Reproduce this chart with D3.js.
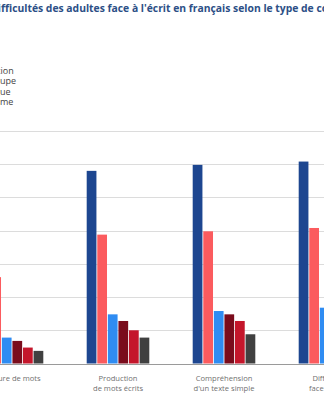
<!DOCTYPE html>
<html><head><meta charset="utf-8">
<script src="https://cdn.jsdelivr.net/npm/d3@7"></script>
<style>body{margin:0;background:#fff;overflow:hidden}svg{display:block}</style>
</head><body>
<svg id="c" width="324" height="400"></svg>
<script>
const title = "Les difficultés des adultes face à l'écrit en français selon le type de compétence";
const categories = [["Lecture de mots"], ["Production", "de mots écrits"], ["Compréhension", "d'un texte simple"], ["Difficultés", "face à l'écrit"]];
const series = ["Ensemble de la population", "Selon le groupe", "Pratique de la langue", "Personnes en situation d'illettrisme", "Série 5", "Série 6"];
const colors = ["#1d4690", "#fb5b5e", "#2f8cf2", "#7a0c1c", "#c4162b", "#404040"];
const values = [
  [22, 13, 3.9, 3.4, 2.4, 1.9],
  [29, 19.4, 7.4, 6.4, 5, 3.9],
  [29.9, 19.9, 7.9, 7.4, 6.4, 4.4],
  [30.4, 20.4, 8.4, 7.2, 6.2, 5]
];
const yTicks = [0, 5, 10, 15, 20, 25, 30, 35];
const legendLines = ["Ensemble de la population", "Selon le groupe", "Pratique de la langue", "Illettrisme"];
const legendVisible = [3, 3, 2, 2]; // trailing characters visible in the cropped view

const svg = d3.select("#c");
const font = "'Open Sans', sans-serif";

function textWidth(str, size, weight) {
  const n = svg.append("text").attr("font-family", font).attr("font-size", size).attr("font-weight", weight || 400).text(str);
  const w = n.node().getComputedTextLength(); n.remove(); return w;
}

// title (starts off the left edge, as in the cropped reference)
const tSize = 10.35;
svg.append("text").attr("y", 12).attr("font-family", font).attr("font-weight", 700)
  .attr("font-size", tSize).attr("fill", "#2c4f86")
  .attr("x", -textWidth("Les di", tSize, 700) + 1).text(title);

// legend (cropped on the left)
const lSize = 9;
svg.append("g").selectAll("text").data(legendLines).join("text")
  .attr("x", (d, i) => -textWidth(d.slice(0, d.length - legendVisible[i]), lSize) + (i === 0 ? 0.5 : 0))
  .attr("y", (d, i) => 74 + i * 10.3)
  .attr("font-family", font).attr("font-size", lSize).attr("fill", "#444")
  .text(d => d);

const y = d3.scaleLinear().domain([0, 35]).range([363.5, 131]);
const x0 = d3.scaleBand().domain(d3.range(categories.length)).range([-41, 383]).padding(0);
const x1 = d3.scaleBand().domain(d3.range(series.length)).range([-31.3, 31.3]).paddingInner(0.08);

// gridlines
svg.append("g").selectAll("line").data(yTicks.filter(v => v > 0)).join("line")
  .attr("x1", 0).attr("x2", 324).attr("y1", d => Math.round(y(d)) + 0.5).attr("y2", d => Math.round(y(d)) + 0.5)
  .attr("stroke", "#dcdcdc").attr("stroke-width", 1);

// bars
const g = svg.append("g").selectAll("g").data(values).join("g")
  .attr("transform", (d, i) => `translate(${x0(i) + x0.bandwidth() / 2},0)`);
g.selectAll("rect").data(d => d).join("rect")
  .attr("x", (d, i) => x1(i)).attr("width", x1.bandwidth())
  .attr("y", d => y(d)).attr("height", d => y(0) - y(d))
  .attr("fill", (d, i) => colors[i]);

// baseline
svg.append("line").attr("x1", 0).attr("x2", 324).attr("y1", Math.round(y(0)) + 0.5).attr("y2", Math.round(y(0)) + 0.5)
  .attr("stroke", "#9a9a9a").attr("stroke-width", 1);

// category labels
const lab = svg.append("g").selectAll("text").data(categories).join("text")
  .attr("text-anchor", "middle").attr("font-family", font).attr("font-size", 7.6).attr("fill", "#707070")
  .attr("transform", (d, i) => `translate(${x0(i) + x0.bandwidth() / 2},381)`);
lab.selectAll("tspan").data(d => d).join("tspan").attr("x", 0).attr("dy", (d, i) => i ? 9.5 : 0).text(d => d);
</script>
</body></html>
